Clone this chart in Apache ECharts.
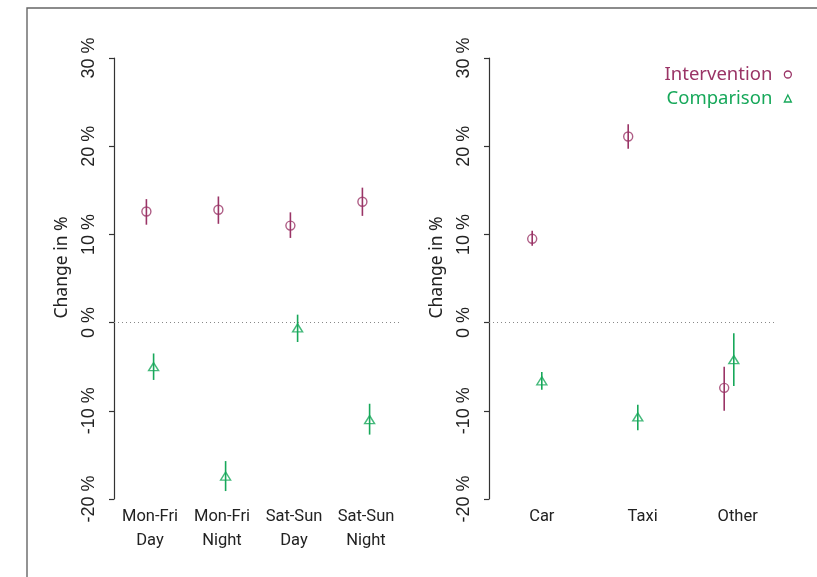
<!DOCTYPE html>
<html>
<head>
<meta charset="utf-8">
<script src="https://cdn.jsdelivr.net/npm/echarts@6/dist/echarts.min.js"></script>
<style>
  html, body { margin: 0; padding: 0; background: #fff; }
  #chart { width: 817px; height: 577px; }
</style>
</head>
<body>
<div id="chart"></div>
<script>
// Percentage change by time of week and by vehicle type, with 95% intervals
const timeCategories = ['Mon-Fri\nDay', 'Mon-Fri\nNight', 'Sat-Sun\nDay', 'Sat-Sun\nNight'];
const timeIntervention = [12.6, 12.8, 11.0, 13.7];
const timeInterventionLo = [11.1, 11.2, 9.6, 12.1];
const timeInterventionHi = [14.0, 14.3, 12.5, 15.3];
const timeComparison = [-5.0, -17.4, -0.6, -11.0];
const timeComparisonLo = [-6.5, -19.1, -2.2, -12.7];
const timeComparisonHi = [-3.5, -15.7, 0.9, -9.2];

const vehicleCategories = ['Car', 'Taxi', 'Other'];
const vehicleIntervention = [9.5, 21.1, -7.4];
const vehicleInterventionLo = [8.7, 19.7, -10.0];
const vehicleInterventionHi = [10.4, 22.5, -5.0];
const vehicleComparison = [-6.6, -10.7, -4.2];
const vehicleComparisonLo = [-7.6, -12.2, -7.2];
const vehicleComparisonHi = [-5.6, -9.3, -1.2];

const yTicks = [-20, -10, 0, 10, 20, 30];

const PURPLE = '#9a3466';
const GREEN = '#17a85a';
const DODGE = 0.05;

function points(values, shift) {
  return values.map((v, i) => [i + 1 + shift, v]);
}
function bars(lo, hi, shift) {
  return lo.map((v, i) => [i + 1 + shift, v, hi[i]]);
}

function errorBars(name, xi, data, color, withZeroLine) {
  const s = {
    name: name,
    type: 'custom',
    xAxisIndex: xi,
    yAxisIndex: xi,
    data: data,
    encode: { x: 0, y: [1, 2] },
    silent: true,
    renderItem: function (params, api) {
      const a = api.coord([api.value(0), api.value(1)]);
      const b = api.coord([api.value(0), api.value(2)]);
      return {
        type: 'line',
        shape: { x1: a[0], y1: a[1], x2: b[0], y2: b[1] },
        style: { stroke: color, lineWidth: 1.6 }
      };
    }
  };
  if (withZeroLine) {
    s.markLine = {
      silent: true,
      symbol: ['none', 'none'],
      label: { show: false },
      lineStyle: { type: [1, 3], color: '#888', width: 1 },
      data: [{ yAxis: 0 }]
    };
  }
  return s;
}

function markers(name, xi, data, symbol, size, color) {
  return {
    name: name,
    type: 'scatter',
    xAxisIndex: xi,
    yAxisIndex: xi,
    data: data,
    symbol: symbol,
    symbolSize: size,
    itemStyle: { color: 'rgba(255,255,255,0)', borderColor: color, borderWidth: 1.4 },
    emphasis: { disabled: true },
    z: 3
  };
}

function yAxisFor(gi) {
  return {
    gridIndex: gi,
    type: 'value',
    min: yTicks[0],
    max: yTicks[yTicks.length - 1],
    interval: 10,
    axisLine: { show: true, lineStyle: { color: '#333', width: 1.2 } },
    axisTick: { show: true, length: 5, lineStyle: { color: '#333', width: 1.2 } },
    splitLine: { show: false },
    axisLabel: {
      rotate: 90,
      margin: 16,
      formatter: '{value} %',
      color: '#222',
      fontSize: 18,
      fontFamily: 'Liberation Sans, Arial, sans-serif'
    },
    name: 'Change in %',
    nameLocation: 'middle',
    nameRotate: 90,
    nameGap: 43,
    nameTextStyle: {
      color: '#222',
      fontSize: 17.5,
      fontFamily: 'Noto Sans, sans-serif',
      padding: [0, 0, 0, 22]
    }
  };
}

function xAxisFor(gi, labels, labelPos) {
  return {
    gridIndex: gi,
    type: 'value',
    min: 0.5,
    max: labels.length + 0.5,
    axisLine: { show: false },
    axisTick: { show: false },
    splitLine: { show: false },
    axisLabel: {
      customValues: labelPos,
      formatter: function (v) {
        return labels[labelPos.indexOf(v)];
      },
      margin: 6,
      color: '#222',
      fontSize: 16.5,
      lineHeight: 24,
      fontFamily: 'Roboto, sans-serif'
    }
  };
}

const chart = echarts.init(document.getElementById('chart'), null, { renderer: 'canvas' });

chart.setOption({
  animation: false,
  backgroundColor: '#fff',
  graphic: [{
    type: 'rect',
    shape: { x: 27, y: 8, width: 1200, height: 1200 },
    style: { fill: 'none', stroke: '#666', lineWidth: 1.4 },
    silent: true,
    z: -1
  }],
  legend: {
    orient: 'vertical',
    right: 20,
    top: 60,
    align: 'right',
    itemGap: 5,
    itemWidth: 7,
    itemHeight: 7,
    selectedMode: false,
    textStyle: { fontSize: 18.5, fontFamily: 'Noto Sans, sans-serif', padding: [0, 7, 0, 0] },
    data: [
      { name: 'Intervention', icon: 'circle', textStyle: { color: PURPLE },
        itemStyle: { color: 'rgba(255,255,255,0)', borderColor: PURPLE, borderWidth: 1.3 } },
      { name: 'Comparison', icon: 'triangle', textStyle: { color: GREEN },
        itemStyle: { color: 'rgba(255,255,255,0)', borderColor: GREEN, borderWidth: 1.3 } }
    ]
  },
  grid: [
    { left: 114, top: 58, width: 288, height: 441 },
    { left: 489, top: 58, width: 288, height: 441 }
  ],
  xAxis: [
    xAxisFor(0, timeCategories, [1, 2, 3, 4]),
    xAxisFor(1, vehicleCategories, [1.05, 2.1, 3.09])
  ],
  yAxis: [yAxisFor(0), yAxisFor(1)],
  series: [
    errorBars('Intervention', 0, bars(timeInterventionLo, timeInterventionHi, -DODGE), PURPLE, true),
    errorBars('Comparison', 0, bars(timeComparisonLo, timeComparisonHi, DODGE), GREEN, false),
    markers('Intervention', 0, points(timeIntervention, -DODGE), 'circle', 9, PURPLE),
    markers('Comparison', 0, points(timeComparison, DODGE), 'triangle', [10, 8], GREEN),
    errorBars('Intervention', 1, bars(vehicleInterventionLo, vehicleInterventionHi, -DODGE), PURPLE, true),
    errorBars('Comparison', 1, bars(vehicleComparisonLo, vehicleComparisonHi, DODGE), GREEN, false),
    markers('Intervention', 1, points(vehicleIntervention, -DODGE), 'circle', 9, PURPLE),
    markers('Comparison', 1, points(vehicleComparison, DODGE), 'triangle', [10, 8], GREEN)
  ]
});
</script>
</body>
</html>
